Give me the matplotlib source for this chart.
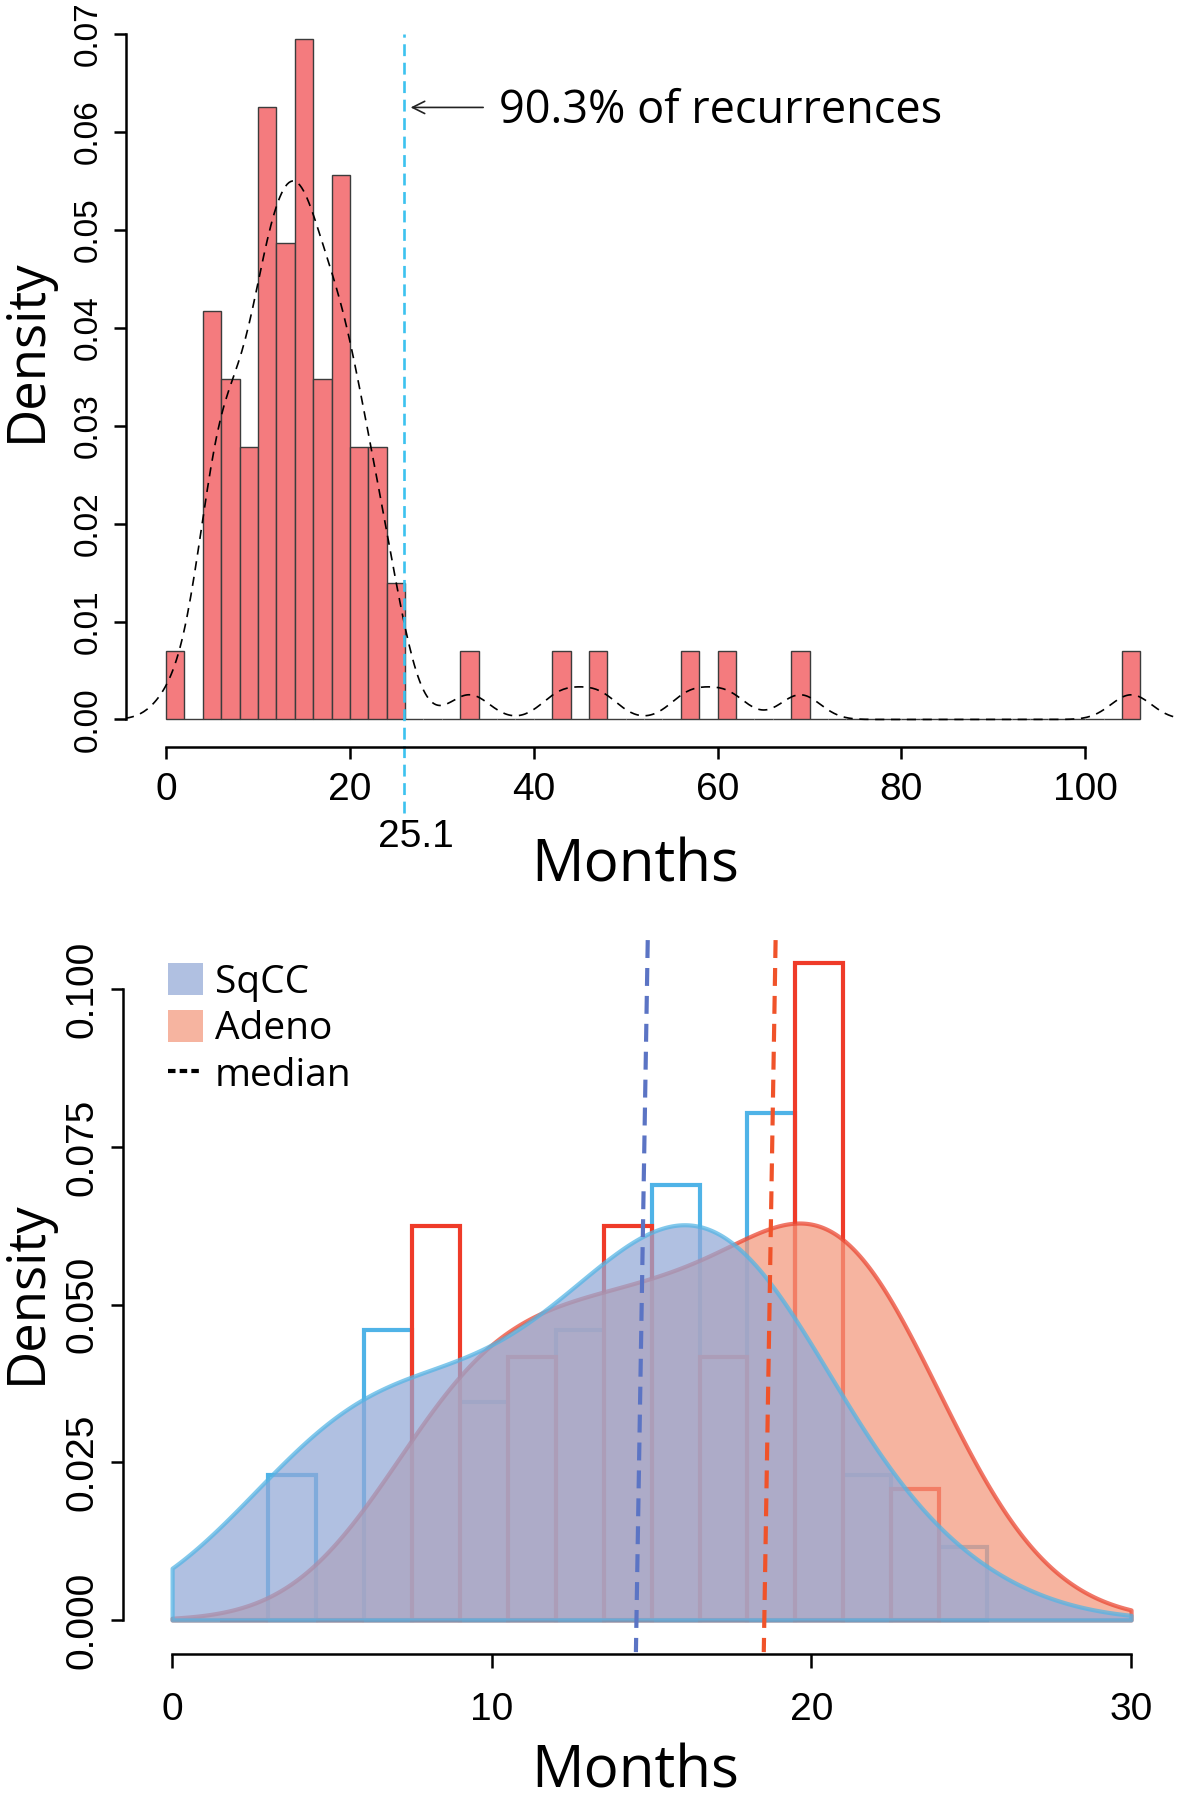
import numpy as np
import matplotlib.pyplot as plt
from matplotlib.patches import Patch
from matplotlib.lines import Line2D

plt.rcParams['font.family'] = ['Open Sans', 'DejaVu Sans']

# top panel: months to recurrence, 2-month bins (bin start, count)
rec_bin_start = [0, 4, 6, 8, 10, 12, 14, 16, 18, 20, 22, 24, 32, 42, 46, 56, 60, 68, 104]
rec_counts = [1, 6, 5, 4, 9, 7, 10, 5, 8, 4, 4, 2, 1, 1, 1, 1, 1, 1, 1]
cutoff_x = 25.9
cutoff_label = '25.1'
top_xticks = [0, 20, 40, 60, 80, 100]
top_yticks = [0.00, 0.01, 0.02, 0.03, 0.04, 0.05, 0.06, 0.07]

# bottom panel: 3-month bins centred on these months
bin_centers = [3, 6, 9, 12, 15, 18, 21, 24]
sqcc_counts = [2, 4, 3, 4, 6, 7, 2, 1]
adeno_counts = [0, 0, 3, 2, 3, 2, 5, 1]
medians = {'SqCC': 14.7, 'Adeno': 18.7}
bot_xticks = [0, 10, 20, 30]
bot_yticks = [0.0, 0.025, 0.05, 0.075, 0.1]


def kde(values, weights, grid, bw):
    v = np.repeat(values, weights)
    z = (grid[:, None] - v[None, :]) / bw
    return np.exp(-0.5 * z ** 2).sum(1) / (len(v) * bw * np.sqrt(2 * np.pi))


W, H = 1179, 1800
fig = plt.figure(figsize=(W / 100, H / 100), dpi=100)
tickfont = 'Liberation Sans'

# ---------------- top panel ----------------
ax1 = fig.add_axes([126.3 / W, 1 - 746.7 / H, 1 - 126.3 / W, 746.7 / H])
edges = np.arange(0, 108, 2)
mids = np.array(rec_bin_start) + 1
ax1.hist(mids, bins=edges, weights=rec_counts, density=True,
         color='#f47b7e', edgecolor='#3c3c3c', linewidth=1.0)

grid = np.linspace(mids.min() - 7.2, mids.max() + 7.2, 600)
ax1.plot(grid, kde(mids, rec_counts, grid, 2.2), color='black', lw=1.2,
         ls=(0, (5.5, 4)))

ax1.plot([cutoff_x, cutoff_x], [-0.0095, 0.07], color='#3cc2ef', lw=1.9,
         ls=(0, (4.5, 2.5)), clip_on=False)
ax1.annotate('', xy=(cutoff_x + 0.4, 0.0625), xytext=(34.8, 0.0625),
             arrowprops=dict(arrowstyle='->', lw=1.2, color='#222222', mutation_scale=22))
ax1.text(36.2, 0.0621, '90.3% of recurrences', fontsize=32.5, va='center')
ax1.text(27.2, -0.012, cutoff_label, ha='center', va='center', fontsize=28,
         family=tickfont, clip_on=False)

ax1.set_xlim(-4.33, 110.2)
ax1.set_ylim(-0.00278, 0.07347)
ax1.set_xticks(top_xticks)
ax1.set_xticklabels([str(t) for t in top_xticks], family=tickfont)
ax1.set_yticks(top_yticks)
ax1.set_yticklabels(['%.2f' % t for t in top_yticks], family=tickfont,
                    rotation=90, va='center')
ax1.tick_params(axis='x', length=8.5, width=1.8, pad=10, labelsize=28)
ax1.tick_params(axis='y', length=8.5, width=1.8, pad=8, labelsize=24)
for s in ['top', 'right']:
    ax1.spines[s].set_visible(False)
ax1.spines['left'].set_bounds(0, 0.07)
ax1.spines['bottom'].set_bounds(0, 100)
for s in ['left', 'bottom']:
    ax1.spines[s].set_linewidth(1.8)

fig.text(635 / W, 1 - 866 / H, 'Months', ha='center', va='center', fontsize=42)
fig.text(27 / W, 1 - 350 / H, 'Density', ha='center', va='center', fontsize=38,
         rotation=90)

# ---------------- bottom panel ----------------
ax2 = fig.add_axes([123.2 / W, 1 - 1654 / H, 1 - 123.2 / W, (1654 - 930) / H])
centers = np.array(bin_centers)
sq_dens = np.array(sqcc_counts) / (sum(sqcc_counts) * 3)
ad_dens = np.array(adeno_counts) / (sum(adeno_counts) * 3)
blue = '#4fb3e7'
red = '#ef3b29'
ax2.bar(centers + 0.75, sq_dens, width=1.5, fill=False, edgecolor=blue, lw=3)
ax2.bar(centers - 0.75, ad_dens, width=1.5, fill=False, edgecolor=red, lw=3)

xg = np.linspace(0, 30, 400)
ad_face = (244 / 255, 152 / 255, 125 / 255, 0.73)
ad_edge = (234 / 255, 70 / 255, 49 / 255, 0.73)
sq_face = (147 / 255, 169 / 255, 215 / 255, 0.73)
sq_edge = (84 / 255, 180 / 255, 228 / 255, 0.73)
ax2.fill_between(xg, kde(centers, adeno_counts, xg, 3.0), facecolor=ad_face,
                 edgecolor=ad_edge, lw=3)
ax2.fill_between(xg, kde(centers, sqcc_counts, xg, 3.0), facecolor=sq_face,
                 edgecolor=sq_edge, lw=3)

med_cols = {'SqCC': '#5b74c4', 'Adeno': '#f0532a'}
for k, m in medians.items():
    ax2.plot([m + 0.18, m - 0.19], [0.1078, -0.0051], color=med_cols[k], lw=3,
             ls=(0, (4.3, 2.4)), clip_on=False)

ax2.set_xlim(-1.53, 31.5)
ax2.set_ylim(-0.0054, 0.1094)
ax2.set_xticks(bot_xticks)
ax2.set_xticklabels([str(t) for t in bot_xticks], family=tickfont)
ax2.set_yticks(bot_yticks)
ax2.set_yticklabels(['%.3f' % t for t in bot_yticks], family=tickfont,
                    rotation=90, va='center')
ax2.tick_params(axis='x', length=10, width=1.8, pad=17, labelsize=28)
ax2.tick_params(axis='y', length=8.5, width=1.8, pad=8, labelsize=28)
for s in ['top', 'right']:
    ax2.spines[s].set_visible(False)
ax2.spines['left'].set_bounds(0, 0.1)
ax2.spines['bottom'].set_bounds(0, 30)
for s in ['left', 'bottom']:
    ax2.spines[s].set_linewidth(1.8)

handles = [Patch(facecolor=sq_face, edgecolor='none'),
           Patch(facecolor=ad_face, edgecolor='none'),
           Line2D([0], [0], color='black', lw=3, ls=(0, (1.8, 1.0)))]
ax2.legend(handles, ['SqCC', 'Adeno', 'median'], loc='upper left',
           bbox_to_anchor=(168 / W, 1 - 963 / H), bbox_transform=fig.transFigure,
           fontsize=28, frameon=False, handlelength=0.9, handleheight=0.9,
           handletextpad=0.3, labelspacing=0.21, borderpad=0, borderaxespad=0)

fig.text(635 / W, 1 - 1772 / H, 'Months', ha='center', va='center', fontsize=42)
fig.text(27 / W, 1 - 1292 / H, 'Density', ha='center', va='center', fontsize=38,
         rotation=90)

fig.savefig('out.png', dpi=100)
